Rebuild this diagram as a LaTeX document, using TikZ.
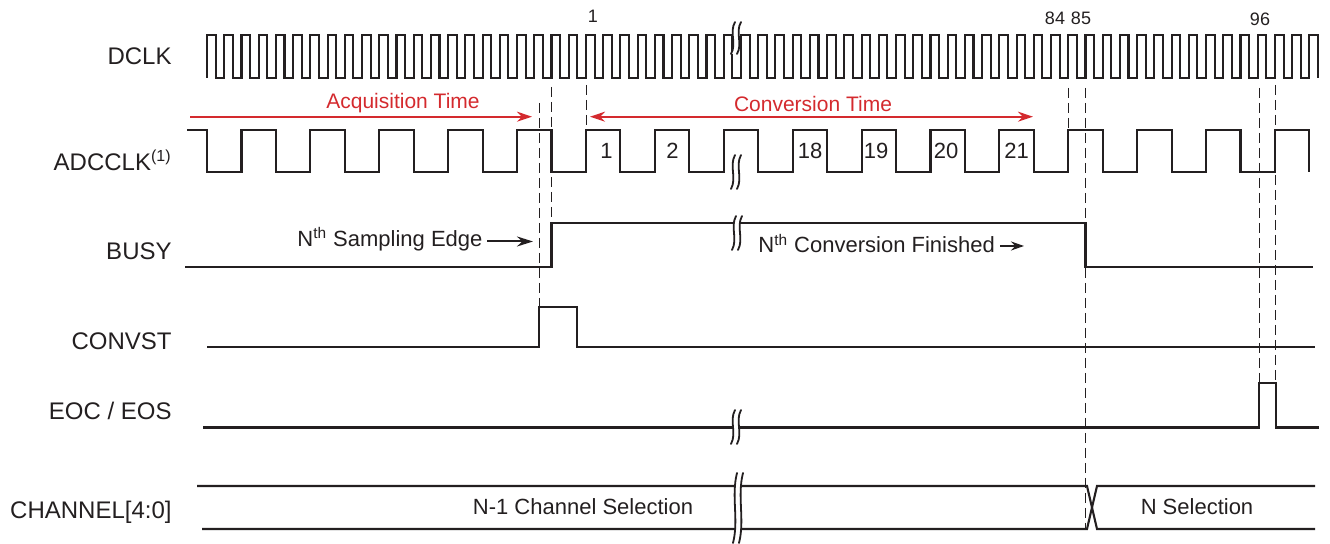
\documentclass[tikz,border=0pt]{standalone}
\usepackage{fontspec}
\setmainfont{Liberation Sans}
\usepackage{xcolor}
\usepackage{tikz}
\usetikzlibrary{arrows.meta,calc,positioning}
\definecolor{tinta}{RGB}{35,31,32}
\definecolor{rojo}{RGB}{212,42,46}
\tikzset{
  sig/.style={tinta,line width=1.05pt,line join=miter},
  guide/.style={tinta,line width=0.5pt,dash pattern=on 5pt off 2.5pt},
  wave/.style={tinta,line width=0.9pt,line cap=round},
  lbl/.style={anchor=base east,inner sep=0pt,text=tinta,font=\fontsize{12}{14}\selectfont},
  note/.style={inner sep=0pt,text=tinta,font=\fontsize{11}{13}\selectfont},
  num/.style={inner sep=0pt,text=tinta,font=\fontsize{9}{11}\selectfont},
  redtxt/.style={inner sep=0pt,text=rojo,font=\fontsize{10.5}{12}\selectfont},
  redarrow/.style={rojo,line width=1.05pt},
  blkarrow/.style={tinta,line width=1pt,-{Stealth[length=8pt,width=5pt]}}
}
% two wavy strokes that cut a trace
\newcommand{\sigbreak}[3]{%
  \fill[white] (#1+2,#2-#3) .. controls (#1-4,#2-#3/3) and (#1+4,#2+#3/3) .. (#1-2,#2+#3)
    -- (#1+4,#2+#3) .. controls (#1+10,#2+#3/3) and (#1+2,#2-#3/3) .. (#1+8,#2-#3) -- cycle;
  \draw[wave] (#1+2,#2-#3) .. controls (#1-4,#2-#3/3) and (#1+4,#2+#3/3) .. (#1-2,#2+#3);
  \draw[wave] (#1+8,#2-#3) .. controls (#1+2,#2-#3/3) and (#1+10,#2+#3/3) .. (#1+4,#2+#3);
}

\begin{document}
\begin{tikzpicture}[x=0.5pt,y=-0.5pt]
\useasboundingbox (0,0) rectangle (1330,544);

% signal names
\node[lbl] (dclk) at (172,65) {DCLK};
\node[lbl] (adcclk) at (172,170.7) {ADCCLK\textsuperscript{(1)}};
\node[lbl] (busy) at (172,260) {BUSY};
\node[lbl] (convst) at (172,349.3) {CONVST};
\node[lbl] (eoc) at (172,420) {EOC / EOS};
\node[lbl] (chan) at (172,519) {CHANNEL[4:0]};

% dashed guides
\foreach \x/\a/\b in {539/103/307, 551.5/87/223, 586/85/130, 1068/88/130,
                      1085.5/88/529, 1259/88/383, 1275/85/383}
  \draw[guide] (\x,\a) -- (\x,\b);

% DCLK
\draw[sig] (207,78) \foreach \k in {1,...,64}{ -- ++(0,-43) -- ++(8.6125,0) -- ++(0,43) -- ++(8.6125,0) }
  -- ++(0,-43) -- ++(8.6125,0) -- ++(0,43);
% ADCCLK
\draw[sig] (187,130) -- (207,130) -- (207,172)
  \foreach \k in {0,...,15}{ -- ++(34.45,0) -- ++(0,-42) -- ++(34.45,0) -- ++(0,42) };
% BUSY, CONVST, EOC
\draw[sig] (185,266.7) -- (551.5,266.7) -- (551.5,223.3) -- (1085.5,223.3) -- (1085.5,266.7) -- (1313,266.7);
\draw[sig] (207,346.7) -- (539,346.7) -- (539,306.7) -- (577,306.7) -- (577,346.7) -- (1315,346.7);
\draw[sig] (203,427.5) -- (1259,427.5) -- (1259,382.7) -- (1276,382.7) -- (1276,427.5) -- (1319,427.5);
% CHANNEL
\draw[sig] (197,486) -- (1087,486) -- (1097,529) -- (1315,529);
\draw[sig] (202,529) -- (1087,529) -- (1097,486) -- (1315,486);

% breaks
\sigbreak{733}{38}{16}
\sigbreak{733}{172}{17}
\sigbreak{734}{233}{17}
\sigbreak{733}{427}{17}
\sigbreak{735}{508}{35}

% clock numbers
\node[num] (d1) at (593,16) {1};
\node[num] (d84) at (1055,18.5) {84};
\node[num] (d85) at (1081,18.5) {85};
\node[num] (d96) at (1260,19) {96};
\foreach \x/\n in {606.5/1, 672.5/2, 810/18, 876/19, 946/20, 1016.5/21}
  \node[note,anchor=base] (a\n) at (\x,159) {\n};

% red spans
\node[redtxt] (acq) at (403,103) {Acquisition Time};
\node[redtxt] (conv) at (813,104) {Conversion Time};
\coordinate (acq0) at (190,116.7);
\coordinate (acq1) at (532,116.7);
\coordinate (conv0) at (590,116.7);
\coordinate (conv1) at (1033,116.7);
\draw[redarrow,-{Stealth[length=7.5pt,width=5pt]}] (acq0) -- (acq1);
\draw[redarrow,{Stealth[length=7.5pt,width=5pt]}-{Stealth[length=7.5pt,width=5pt]}] (conv0) -- (conv1);

% edge notes
\node[note,anchor=base west] (samp) at (297,246.7) {N\textsuperscript{th} Sampling Edge};
\node[note,anchor=base west] (fin) at (758,253) {N\textsuperscript{th} Conversion Finished};
\coordinate (samp0) at (487,241.5);
\coordinate (samp1) at (533,241.5);
\coordinate (fin0) at (1000,246);
\coordinate (fin1) at (1024,246);
\draw[blkarrow] (samp0) -- (samp1);
\draw[blkarrow,-{Stealth[length=6.5pt,width=4.5pt]}] (fin0) -- (fin1);

% channel contents
\node[note,anchor=base] (nm1) at (583,515) {N-1 Channel Selection};
\node[note,anchor=base] (nsel) at (1197,515) {N Selection};
\end{tikzpicture}
\end{document}
